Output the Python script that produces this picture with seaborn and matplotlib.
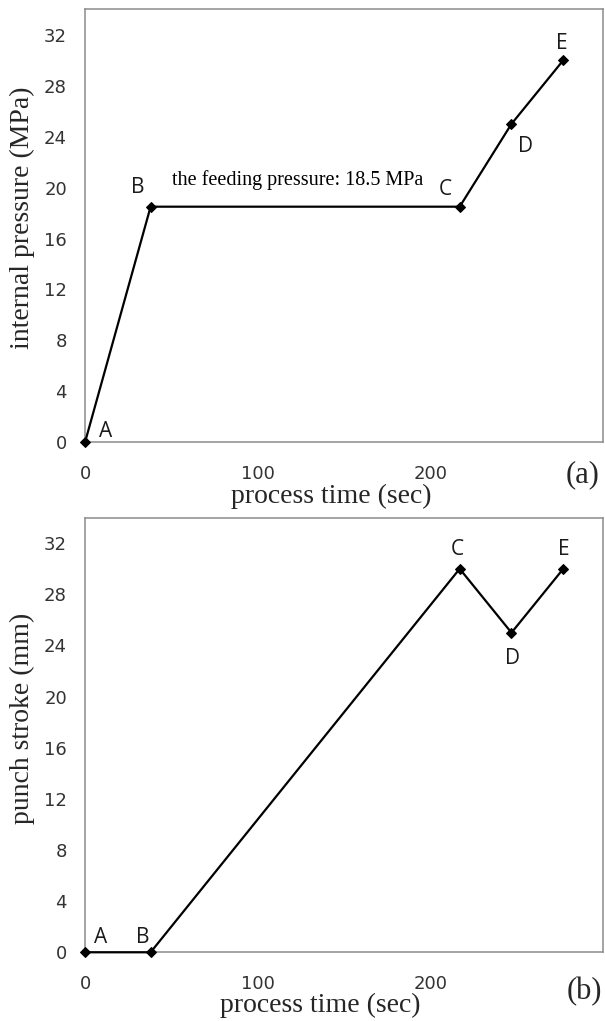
import matplotlib
matplotlib.use("Agg")
import matplotlib.pyplot as plt
import seaborn as sns

# process time (sec) at the points A..E
point_names = ["A", "B", "C", "D", "E"]
time_sec = [0, 38, 217, 247, 277]

# (a) internal pressure (MPa)
pressure_mpa = [0, 18.5, 18.5, 25, 30]
# (b) punch stroke (mm)
stroke_mm = [0, 0, 30, 25, 30]

x_ticks = [0, 50, 100, 150, 200, 250, 300]
x_tick_labels = ["0", "", "100", "", "200", "", ""]
y_ticks = list(range(0, 34, 2))
y_tick_labels = [str(v) if v % 4 == 0 else "" for v in y_ticks]

feed_note = "the feeding pressure: 18.5 MPa"

sns.set_style("white")
plt.rcParams["font.family"] = ["DejaVu Sans"]

SPINE = "#8c8c8c"
SERIF = ["Liberation Serif", "DejaVu Serif"]

# label offsets (pixels) for the point letters
offs_a = [(21, 5), (-13, 14), (-14, 12), (14, -28), (-1, 11)]
offs_b = [(16, 9), (-8, 9), (-2, 14), (1, -31), (1, 14)]

fig = plt.figure(figsize=(6.05, 10.21), dpi=100)
ax1 = fig.add_axes([0.1405, 0.5668, 0.8562, 0.4241])
ax2 = fig.add_axes([0.1405, 0.0673, 0.8562, 0.4257])


def draw_panel(ax, yvals, ylabel, offs, xlab_x, xlab_y, ylab_y):
    sns.lineplot(x=time_sec, y=yvals, ax=ax, color="black", linewidth=1.6,
                 marker="D", markersize=5.5, markeredgecolor="black",
                 sort=False, clip_on=False, zorder=5)
    ax.set_xlim(0, 300)
    ax.set_ylim(0, 34)
    ax.set_xticks(x_ticks)
    ax.set_xticklabels(x_tick_labels)
    ax.set_yticks(y_ticks)
    ax.set_yticklabels(y_tick_labels)
    ax.tick_params(axis="both", direction="out", length=4, width=1,
                   color=SPINE, labelcolor="#333333", labelsize=13)
    ax.tick_params(axis="x", pad=12)
    ax.tick_params(axis="y", pad=9)
    for sp in ax.spines.values():
        sp.set_color(SPINE)
        sp.set_linewidth(1.1)
        sp.set_visible(True)
    ax.set_xlabel("process time (sec)", family=SERIF, fontsize=20)
    ax.xaxis.set_label_coords(xlab_x, xlab_y)
    ax.set_ylabel(ylabel, family=SERIF, fontsize=20)
    ax.yaxis.set_label_coords(-0.097, ylab_y)
    for name, x, y, (dx, dy) in zip(point_names, time_sec, yvals, offs):
        ax.annotate(name, (x, y), xytext=(dx, dy), textcoords="offset pixels",
                    ha="center", va="baseline", fontsize=15,
                    family=["Open Sans", "DejaVu Sans"], color="#1a1a1a")


draw_panel(ax1, pressure_mpa, "internal pressure (MPa)", offs_a,
           0.476, -0.095, 0.518)
draw_panel(ax2, stroke_mm, "punch stroke (mm)", offs_b,
           0.454, -0.093, 0.539)

ax1.text(123, 20.2, feed_note, ha="center", va="baseline",
         family=SERIF, fontsize=14.5, color="black")

fig.text(583 / 605, 1 - 475 / 1021, "(a)", ha="center", va="center",
         family=SERIF, fontsize=22)
fig.text(584 / 605, 1 - 992 / 1021, "(b)", ha="center", va="center",
         family=SERIF, fontsize=22)

fig.savefig("out.png", dpi=100)
